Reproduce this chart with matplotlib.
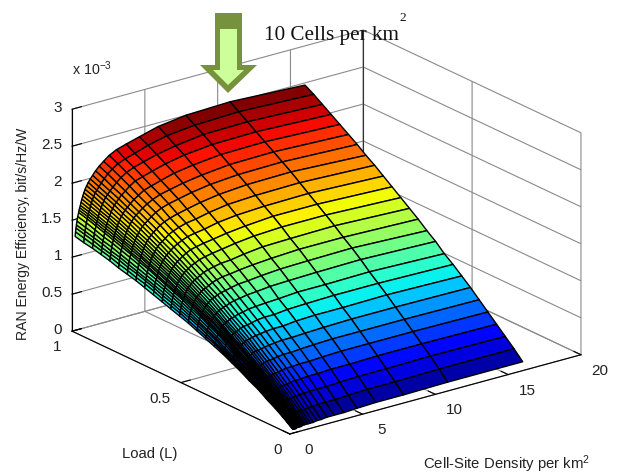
import numpy as np
import matplotlib
matplotlib.use('Agg')
import matplotlib.pyplot as plt
from matplotlib.patches import Polygon
from mpl_toolkits.mplot3d import proj3d

plt.rcParams['font.family'] = 'Liberation Sans'
plt.rcParams['mathtext.default'] = 'regular'

density = [0.21, 0.24, 0.27, 0.30, 0.34, 0.39, 0.45, 0.485, 0.525, 0.57,
           0.62, 0.675, 0.74, 0.81, 0.896, 0.995, 1.11, 1.25, 1.41, 1.61,
           1.86, 2.16, 2.55, 3.05, 3.71, 4.62, 5.91, 7.82, 10.85, 16.0]
load = [0.00, 0.04, 0.08, 0.12, 0.16, 0.20, 0.24, 0.28, 0.32, 0.36, 0.40, 0.44, 0.48,
        0.52, 0.56, 0.60, 0.64, 0.68, 0.72, 0.76, 0.80, 0.84, 0.88, 0.92, 0.96, 1.00]

# efficiency in units of 1e-3, one row per load value
efficiency = [
    [.05, .05, .05, .05, .05, .05, .05, .06, .06, .06, .06, .06, .06, .06, .07, .07, .07, .07, .07, .07, .08, .08, .09, .09, .09, .10, .11, .11, .12, .12],
    [.14, .14, .14, .15, .15, .15, .16, .16, .17, .17, .17, .18, .18, .18, .18, .18, .18, .19, .19, .19, .20, .20, .21, .21, .21, .22, .23, .23, .24, .24],
    [.22, .23, .24, .24, .25, .25, .26, .26, .27, .27, .28, .28, .29, .29, .29, .30, .30, .30, .31, .31, .32, .32, .33, .33, .33, .34, .35, .35, .36, .35],
    [.29, .30, .31, .32, .33, .34, .35, .36, .36, .37, .38, .38, .39, .39, .40, .40, .41, .41, .42, .42, .43, .44, .44, .45, .45, .46, .46, .47, .47, .46],
    [.37, .38, .39, .40, .41, .43, .44, .45, .46, .46, .47, .48, .49, .49, .50, .51, .51, .52, .52, .53, .54, .55, .55, .56, .56, .57, .58, .58, .58, .57],
    [.43, .45, .46, .48, .49, .51, .52, .53, .54, .55, .56, .57, .58, .59, .59, .60, .61, .62, .63, .63, .64, .65, .66, .66, .67, .68, .69, .69, .69, .68],
    [.50, .52, .53, .55, .57, .58, .60, .61, .62, .63, .64, .66, .67, .67, .68, .70, .71, .72, .72, .73, .74, .75, .76, .77, .77, .78, .79, .80, .80, .79],
    [.56, .58, .60, .62, .64, .66, .67, .69, .70, .71, .72, .74, .75, .76, .77, .79, .80, .81, .82, .83, .84, .85, .86, .87, .87, .89, .90, .90, .91, .89],
    [.62, .64, .66, .68, .70, .73, .75, .76, .78, .79, .81, .82, .83, .84, .86, .87, .88, .89, .91, .92, .93, .94, .96, .97, .97, .99, 1.00, 1.01, 1.01, .99],
    [.67, .70, .72, .75, .77, .79, .82, .84, .85, .87, .88, .90, .91, .92, .94, .95, .96, .98, .99, 1.00, 1.02, 1.03, 1.05, 1.06, 1.07, 1.08, 1.10, 1.10, 1.11, 1.08],
    [.72, .75, .78, .81, .83, .86, .88, .90, .92, .94, .95, .97, .99, 1.00, 1.02, 1.03, 1.05, 1.06, 1.08, 1.09, 1.11, 1.13, 1.14, 1.16, 1.17, 1.19, 1.20, 1.21, 1.22, 1.19],
    [.77, .80, .84, .87, .89, .92, .95, .97, .99, 1.00, 1.02, 1.04, 1.06, 1.08, 1.09, 1.11, 1.13, 1.15, 1.16, 1.18, 1.20, 1.21, 1.23, 1.25, 1.26, 1.28, 1.30, 1.31, 1.32, 1.28],
    [.82, .85, .89, .92, .95, .98, 1.00, 1.03, 1.05, 1.07, 1.09, 1.11, 1.13, 1.14, 1.16, 1.18, 1.20, 1.22, 1.23, 1.25, 1.28, 1.30, 1.32, 1.33, 1.35, 1.37, 1.39, 1.41, 1.41, 1.38],
    [.86, .90, .93, .97, 1.00, 1.03, 1.06, 1.08, 1.10, 1.12, 1.14, 1.17, 1.19, 1.21, 1.23, 1.25, 1.27, 1.29, 1.31, 1.33, 1.36, 1.38, 1.40, 1.42, 1.43, 1.46, 1.49, 1.50, 1.51, 1.47],
    [.90, .94, .98, 1.01, 1.05, 1.08, 1.11, 1.13, 1.15, 1.17, 1.20, 1.22, 1.25, 1.27, 1.29, 1.31, 1.34, 1.36, 1.38, 1.41, 1.43, 1.46, 1.48, 1.50, 1.52, 1.55, 1.58, 1.60, 1.60, 1.56],
    [.94, .98, 1.02, 1.06, 1.10, 1.13, 1.16, 1.18, 1.21, 1.23, 1.26, 1.28, 1.31, 1.33, 1.35, 1.38, 1.40, 1.43, 1.45, 1.48, 1.51, 1.54, 1.56, 1.58, 1.60, 1.63, 1.66, 1.69, 1.69, 1.65],
    [.98, 1.03, 1.07, 1.10, 1.14, 1.18, 1.21, 1.23, 1.26, 1.28, 1.31, 1.34, 1.36, 1.39, 1.41, 1.44, 1.47, 1.49, 1.52, 1.55, 1.58, 1.61, 1.64, 1.66, 1.68, 1.72, 1.75, 1.77, 1.78, 1.74],
    [1.02, 1.07, 1.11, 1.14, 1.18, 1.22, 1.26, 1.28, 1.31, 1.33, 1.36, 1.39, 1.42, 1.44, 1.47, 1.50, 1.53, 1.56, 1.58, 1.61, 1.65, 1.68, 1.71, 1.74, 1.76, 1.80, 1.84, 1.86, 1.87, 1.83],
    [1.06, 1.10, 1.15, 1.18, 1.22, 1.27, 1.30, 1.33, 1.36, 1.38, 1.41, 1.44, 1.47, 1.50, 1.53, 1.56, 1.59, 1.62, 1.65, 1.68, 1.72, 1.75, 1.78, 1.81, 1.84, 1.88, 1.92, 1.95, 1.96, 1.91],
    [1.09, 1.14, 1.18, 1.22, 1.26, 1.31, 1.35, 1.37, 1.40, 1.43, 1.46, 1.49, 1.52, 1.55, 1.58, 1.61, 1.65, 1.68, 1.71, 1.74, 1.78, 1.82, 1.86, 1.89, 1.92, 1.96, 2.00, 2.03, 2.04, 2.00],
    [1.12, 1.17, 1.22, 1.26, 1.30, 1.35, 1.39, 1.42, 1.45, 1.47, 1.50, 1.53, 1.57, 1.60, 1.63, 1.67, 1.70, 1.74, 1.77, 1.80, 1.84, 1.88, 1.92, 1.96, 1.99, 2.03, 2.07, 2.11, 2.12, 2.08],
    [1.16, 1.21, 1.25, 1.29, 1.34, 1.39, 1.43, 1.46, 1.49, 1.52, 1.55, 1.58, 1.61, 1.65, 1.68, 1.72, 1.75, 1.79, 1.82, 1.86, 1.90, 1.94, 1.99, 2.02, 2.06, 2.11, 2.15, 2.19, 2.20, 2.16],
    [1.19, 1.24, 1.28, 1.33, 1.37, 1.42, 1.47, 1.50, 1.53, 1.56, 1.59, 1.63, 1.66, 1.69, 1.73, 1.77, 1.81, 1.84, 1.88, 1.92, 1.96, 2.01, 2.06, 2.09, 2.13, 2.18, 2.23, 2.27, 2.28, 2.24],
    [1.22, 1.27, 1.32, 1.36, 1.41, 1.46, 1.51, 1.54, 1.57, 1.60, 1.63, 1.67, 1.70, 1.74, 1.78, 1.82, 1.86, 1.89, 1.93, 1.97, 2.02, 2.07, 2.12, 2.16, 2.20, 2.25, 2.30, 2.35, 2.36, 2.32],
    [1.24, 1.30, 1.35, 1.39, 1.44, 1.50, 1.55, 1.58, 1.61, 1.64, 1.67, 1.71, 1.75, 1.79, 1.83, 1.87, 1.90, 1.94, 1.98, 2.03, 2.08, 2.13, 2.18, 2.22, 2.26, 2.32, 2.38, 2.42, 2.44, 2.40],
    [1.27, 1.33, 1.38, 1.42, 1.47, 1.53, 1.58, 1.61, 1.64, 1.67, 1.71, 1.75, 1.79, 1.83, 1.87, 1.91, 1.95, 1.99, 2.03, 2.08, 2.13, 2.18, 2.24, 2.29, 2.33, 2.38, 2.45, 2.50, 2.52, 2.47],
]

x_ticks = [0, 5, 10, 15, 20]
x_labels = ['0', '5', '10', '15', '20']
y_ticks = [0, 0.5, 1]
y_labels = ['0', '0.5', '1']
z_ticks = [0, 0.5, 1, 1.5, 2, 2.5, 3]
z_labels = ['0', '0.5', '1', '1.5', '2', '2.5', '3']

W, H = 620, 474
fig = plt.figure(figsize=(W / 100, H / 100), dpi=100)

# big enough that the surface is not clipped by the axes box
side = 549
left = 326.5 - 0.5135 * side
bottom = (H - 232) - 0.5135 * side
ax = fig.add_axes([left / W, bottom / H, side / W, side / H], projection='3d', proj_type='ortho')
ax.patch.set_alpha(0)
ax.view_init(elev=21, azim=-127.2)
ax.set_box_aspect((365.5, 360, 237.7), zoom=1)

X, Y = np.meshgrid(density, load)
Z = np.array(efficiency)
ax.plot_surface(X, Y, Z, rstride=1, cstride=1, cmap='jet', edgecolor='k',
                linewidth=1.0, shade=False, antialiased=True)
ax.plot([20, 20], [1, 1], [0, 3], color='#333333', lw=0.8)

ax.set_xlim(0, 20, view_margin=0)
ax.set_ylim(0, 1, view_margin=0)
ax.set_zlim(0, 3, view_margin=0)
ax.set_xticks(x_ticks)
ax.set_yticks(y_ticks)
ax.set_zticks(z_ticks)

for axis in (ax.xaxis, ax.yaxis, ax.zaxis):
    axis.set_pane_color((1, 1, 1, 0))
    axis.pane.set_edgecolor((1, 1, 1, 0))
    axis.line.set_color('black')
    axis.line.set_linewidth(0.8)
    axis.label.set_visible(False)
    axis.offsetText.set_visible(False)
    axis._axinfo['grid']['color'] = '#8a8a8a'
    axis._axinfo['grid']['linewidth'] = 0.8
    axis._axinfo['tick']['inward_factor'] = 0
    axis._axinfo['tick']['outward_factor'] = 0.4
    axis._axinfo['tick']['color'] = 'black'
    for tick in axis.get_major_ticks():
        tick.label1.set_visible(False)
        tick.label2.set_visible(False)

# pixel-space overlay for the annotation and the labels
over = fig.add_axes([0, 0, 1, 1])
over.set_xlim(0, W)
over.set_ylim(H, 0)
over.axis('off')


def to_px(x, y, z):
    xs, ys, _ = proj3d.proj_transform(x, y, z, ax.get_proj())
    px, py = ax.transData.transform((xs, ys))
    return px, H - py


# the 3d axis offers no control over label offsets, so tick labels go on the overlay
tick_style = dict(fontsize=11, color='#222222', va='center')
for t, s in zip(x_ticks, x_labels):
    px, py = to_px(t, 0, 0)
    over.text(px + 19, py + 16, s, ha='center', **tick_style)
for t, s, dx in zip(y_ticks, y_labels, [-12, -21, -15]):
    px, py = to_px(0, t, 0)
    over.text(px + dx, py + 16, s, ha='center', **tick_style)
for t, s in zip(z_ticks, z_labels):
    px, py = to_px(0, 1, t)
    over.text(px - 10, py - 1, s, ha='right', **tick_style)

over.add_patch(Polygon([(215, 13), (242, 13), (242, 65), (257, 65), (228, 93), (200, 65), (215, 65)],
                       closed=True, fc='#76923C', ec='none'))
over.add_patch(Polygon([(220, 29), (237, 29), (237, 70), (244, 70), (228, 85), (213, 70), (220, 70)],
                       closed=True, fc='#CCFF99', ec='none'))

over.text(264, 40, '10 Cells per km', family='Liberation Serif', fontsize=15.2, color='#111111', va='baseline')
over.text(399, 21, '2', family='Liberation Serif', fontsize=9.5, color='#111111', va='baseline')
over.text(72, 75, 'x 10$^{-3}$', fontsize=10.3, color='#222222', va='baseline')
over.text(23, 234, 'RAN Energy Efficiency, bit/s/Hz/W', rotation=90, fontsize=10.1, color='#222222',
          ha='center', va='center')
over.text(150, 454, 'Load (L)', fontsize=10.7, color='#222222', ha='center', va='center')
over.text(423, 469, 'Cell-Site Density per km$^2$', fontsize=10.7, color='#222222', va='baseline')

fig.savefig('out.png', dpi=100)
